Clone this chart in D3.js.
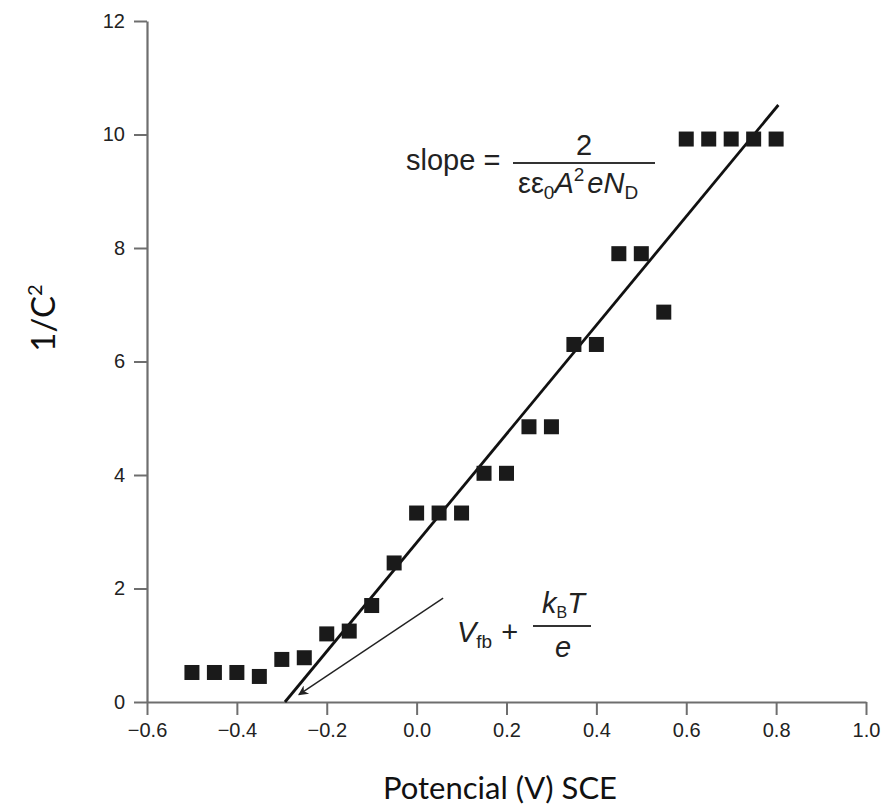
<!DOCTYPE html>
<html><head><meta charset="utf-8">
<script src="https://cdn.jsdelivr.net/npm/d3@7"></script>
<style>body{margin:0;background:#fff}svg{display:block}</style>
</head><body>
<svg id="chart" width="885" height="811"></svg>
<script>
const potential = [-0.5,-0.45,-0.4,-0.35,-0.3,-0.25,-0.2,-0.15,-0.1,-0.05,0.0,0.05,0.1,0.15,0.2,0.25,0.3,0.35,0.4,0.45,0.5,0.55,0.6,0.65,0.7,0.75,0.8];
const invC2 = [0.52,0.52,0.52,0.45,0.75,0.78,1.2,1.25,1.7,2.45,3.33,3.33,3.33,4.03,4.03,4.85,4.85,6.3,6.3,7.9,7.9,6.87,9.92,9.92,9.92,9.92,9.92];
const fitLine = [[-0.293,0],[0.805,10.52]];
const arrowLine = [[0.059,1.83],[-0.262,0.13]];
const xTicks = [-0.6,-0.4,-0.2,0.0,0.2,0.4,0.6,0.8,1.0];
const yTicks = [0,2,4,6,8,10,12];

const svg = d3.select('#chart');
const x = d3.scaleLinear().domain([-0.6,1.0]).range([147,866]);
const y = d3.scaleLinear().domain([0,12]).range([702,21]);
const axisColor = '#6e6e6e';
const tickFont = 'Liberation Sans, Arial, sans-serif';

// x axis
const gx = svg.append('g').attr('transform','translate(0,702)')
  .call(d3.axisBottom(x).tickValues(xTicks).tickFormat(d3.format('.1f')).tickSize(13).tickSizeOuter(0).tickPadding(8));
gx.selectAll('text').text(d => d3.format('.1f')(d).replace('-', '\u2212'));
// y axis
const gy = svg.append('g').attr('transform','translate(147,0)')
  .call(d3.axisLeft(y).tickValues(yTicks).tickFormat(d3.format('d')).tickSize(13).tickSizeOuter(0).tickPadding(9));
[gx,gy].forEach(g=>{
  g.select('.domain').attr('stroke',axisColor).attr('stroke-width',2.2);
  g.selectAll('.tick line').attr('stroke',axisColor).attr('stroke-width',2);
  g.selectAll('text').attr('fill','#222').style('font-family',tickFont).style('font-size','20px');
});

// fit line
svg.append('path').datum(fitLine)
  .attr('d', d3.line().x(d=>x(d[0])).y(d=>y(d[1])))
  .attr('stroke','#111').attr('stroke-width',2.8).attr('fill','none');

// points
const sz = 15;
svg.append('g').selectAll('rect').data(potential.map((p,i)=>[p,invC2[i]])).join('rect')
  .attr('x', d=>x(d[0])-sz/2).attr('y', d=>y(d[1])-sz/2)
  .attr('width',sz).attr('height',sz).attr('fill','#1a1a1a');

// arrow
svg.append('defs').append('marker').attr('id','ah').attr('viewBox','0 0 10 10')
  .attr('refX',9).attr('refY',5).attr('markerWidth',18).attr('markerHeight',10)
  .attr('markerUnits','userSpaceOnUse').attr('orient','auto')
  .append('path').attr('d','M0,0 L10,5 L0,10 L3,5 Z').attr('fill','#222');
svg.append('path').datum(arrowLine)
  .attr('d', d3.line().x(d=>x(d[0])).y(d=>y(d[1])))
  .attr('stroke','#222').attr('stroke-width',1.4).attr('fill','none').attr('marker-end','url(#ah)');

// slope annotation
const ff = 'Liberation Sans, Arial, sans-serif';
const FS = 29, SS = 19;
const ann = svg.append('g').style('font-family',ff).attr('fill','#222');
ann.append('text').attr('x',406).attr('y',170).style('font-size',FS+'px').text('slope =');
ann.append('line').attr('x1',513).attr('x2',655).attr('y1',163).attr('y2',163).attr('stroke','#333').attr('stroke-width',1.8);
ann.append('text').attr('x',584).attr('y',155).attr('text-anchor','middle').style('font-size',FS+'px').text('2');
const den = ann.append('text').attr('x',518).attr('y',193).style('font-size',FS+'px');
den.append('tspan').text('εε');
den.append('tspan').attr('dy',6).style('font-size',SS+'px').text('0');
den.append('tspan').attr('dy',-6).style('font-style','italic').text('A');
den.append('tspan').attr('dy',-12).style('font-size',SS+'px').text('2');
den.append('tspan').attr('dy',12).attr('dx',3).style('font-style','italic').text('eN');
den.append('tspan').attr('dy',6).style('font-size',SS+'px').text('D');

// Vfb annotation
const v = ann.append('text').attr('x',457).attr('y',642).style('font-size',FS+'px');
v.append('tspan').style('font-style','italic').text('V');
v.append('tspan').attr('dy',6).style('font-size',SS+'px').text('fb');
v.append('tspan').attr('dy',-6).attr('dx',9).text('+');
ann.append('line').attr('x1',533).attr('x2',591).attr('y1',626).attr('y2',626).attr('stroke','#333').attr('stroke-width',1.8);
const kt = ann.append('text').attr('x',542).attr('y',613).style('font-size',FS+'px');
kt.append('tspan').style('font-style','italic').text('k');
kt.append('tspan').attr('dy',5).style('font-size','16px').text('B');
kt.append('tspan').attr('dy',-5).style('font-style','italic').text('T');
ann.append('text').attr('x',563).attr('y',657).attr('text-anchor','middle').style('font-size',FS+'px').style('font-style','italic').text('e');

// axis titles
const tf = 'Lato, Open Sans, sans-serif';
const yl = svg.append('text').attr('transform','translate(55,318) rotate(-90)').attr('text-anchor','middle')
  .style('font-family',tf).style('font-size','33px').attr('fill','#111');
yl.append('tspan').text('1/C');
yl.append('tspan').attr('dy',-13).style('font-size','20px').text('2');
svg.append('text').attr('x',500).attr('y',799).attr('text-anchor','middle')
  .style('font-family',tf).style('font-size','31px').attr('fill','#111').text('Potencial (V) SCE');
</script>
</body></html>
